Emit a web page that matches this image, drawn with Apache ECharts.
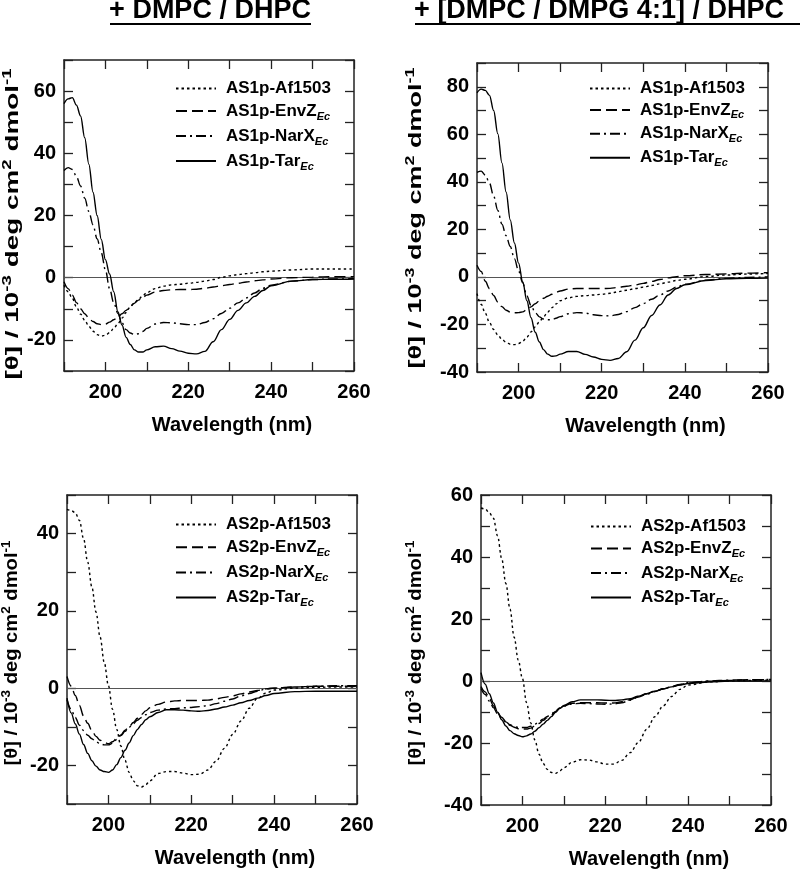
<!DOCTYPE html>
<html><head><meta charset="utf-8">
<script src="https://cdn.jsdelivr.net/npm/echarts@6/dist/echarts.min.js"></script>
<style>html,body{margin:0;padding:0;background:#fff}#c{width:800px;height:870px}</style>
</head><body><div id="c"></div>
<script>
// ---------- DATA ----------
const wavelengths = [190,191,192,193,194,195,196,197,198,199,200,201,202,203,204,205,206,207,208,209,210,212,214,216,218,220,222,224,226,228,230,232,234,236,238,240,245,250,255,260];

const panelTitles = ['+ DMPC / DHPC', '+ [DMPC / DMPG 4:1] / DHPC'];
const peptideKeys = ['Af1503', 'EnvZ', 'NarX', 'Tar'];
const peptideSubs = ['', 'Ec', 'Ec', 'Ec'];
const panelPrefix = ['AS1p', 'AS1p', 'AS2p', 'AS2p'];
const xTickLabels = [200, 220, 240, 260];
const yTickLabels = [[-20, 0, 20, 40, 60], [-40, -20, 0, 20, 40, 60, 80], [-20, 0, 20, 40], [-40, -20, 0, 20, 40, 60]];
const yRanges = [[-30, 70], [-40, 90], [-30, 50], [-40, 60]];
const xRange = [190, 260];
const xLabel = 'Wavelength (nm)';
const yLabelParts = [['[\u03b8] / 10', '-3'], [' deg cm', '2'], [' dmol', '-1']];

// Panel 1: AS1p in DMPC/DHPC
const p1_Af1503 = [-2.4,-4.5,-6.6,-9.4,-11.7,-13.7,-15.6,-17.2,-18.3,-18.8,-18.5,-17.7,-16.3,-14.8,-13,-11.2,-9.3,-8,-6.9,-5.8,-4.8,-3.5,-2.7,-2.3,-2.1,-1.8,-1.5,-1.1,-0.6,0.1,0.6,1.0,1.3,1.6,1.9,2.1,2.5,2.8,2.8,2.8];
const p1_EnvZ = [-1.3,-3.5,-5.6,-8,-10,-11.6,-13,-14.1,-14.8,-15.1,-14.9,-14.3,-13.5,-12.7,-11.6,-10.5,-9.2,-8.2,-7.2,-6.4,-5.6,-4.6,-4.1,-3.9,-3.8,-3.8,-3.7,-3.4,-3.0,-2.6,-2.2,-1.8,-1.4,-1.0,-0.7,-0.4,0,0.2,0.3,0.3];
const p1_NarX = [34.5,35.4,34.8,32.6,29.5,25.6,21.3,17,12.5,8,2.5,-3.5,-8,-11.5,-14.5,-16.7,-17.8,-18.3,-18,-17.3,-16.3,-14.9,-14.4,-14.5,-14.8,-15.1,-15.1,-14.4,-13.2,-11.5,-9.8,-8.1,-6.5,-4.9,-3.4,-2.4,-1.1,-0.6,-0.4,-0.3];
const p1_Tar = [56,57.5,57.9,55.5,52,45,36.5,27.5,20,12.3,5.8,1.2,-4.5,-10.9,-15.2,-19.2,-21.5,-23.2,-23.9,-23.9,-23.2,-22.2,-22,-22.8,-23.6,-24.3,-24.5,-23.7,-20.6,-16.7,-13.4,-10.5,-8.1,-6,-4.1,-2.6,-1.1,-0.6,-0.5,-0.4];

// Panel 2: AS1p in [DMPC/DMPG 4:1]/DHPC
const p2_Af1503 = [-7,-11.5,-15.3,-19.2,-22.1,-24.4,-26.3,-27.5,-28.3,-28.5,-28,-27.1,-25.3,-23.1,-21,-18.9,-16.8,-14.8,-13,-11.4,-10,-8.8,-8.2,-7.9,-7.6,-7.3,-6.9,-6.2,-5.6,-4.9,-4.3,-3.6,-2.9,-2.2,-1.5,-1,0.2,0.8,1.2,1.5];
const p2_EnvZ = [4.9,2.3,-1.8,-4.9,-7.8,-10.5,-12.5,-14,-14.8,-15.1,-15,-14.7,-13.7,-12.6,-11.3,-10.1,-9,-8.1,-7.3,-6.5,-5.9,-5.1,-4.9,-4.9,-4.9,-4.9,-4.8,-4.4,-3.9,-3.4,-2.7,-1.9,-1.1,-0.4,0.1,0.5,1,1.3,1.6,1.8];
const p2_NarX = [44,44.5,42.8,39.5,34,28,22.2,17.3,12.8,7.7,2.5,-2.5,-8,-12,-15,-16.8,-17.7,-18,-18,-17.4,-16.7,-15.5,-15,-15.2,-15.9,-16.3,-16.4,-15.8,-14.6,-12.9,-11.2,-9.4,-7.6,-5.9,-4.3,-3.1,-1.4,-0.6,-0.2,0];
const p2_Tar = [77.5,79,78.5,76.4,70,60.3,48,35.7,24,14.3,5.8,-2.1,-10,-17.2,-23.3,-27.4,-30.6,-32.5,-33.4,-33.2,-32.5,-31.4,-31.4,-32.6,-33.7,-34.7,-35.1,-34.3,-31.5,-26.6,-21.4,-16.2,-11.8,-7.6,-4.9,-3.3,-1.5,-0.8,-0.6,-0.5];

// Panel 3: AS2p in DMPC/DHPC
const p3_Af1503 = [46.3,46,45.4,43.4,38.7,32.6,26.2,19.7,13.2,6.6,0.6,-5.5,-10.7,-15,-18.7,-21.8,-24,-25.3,-25.6,-25,-24,-22.1,-21.6,-21.6,-22,-22.4,-22.3,-21.2,-18.9,-15.6,-12,-8.5,-5.2,-2.6,-1.3,-0.5,0,0.2,0.3,0.3];
const p3_EnvZ = [3,0.5,-1.9,-4.5,-7.2,-9.1,-11,-12.5,-13.5,-14.1,-14.4,-13.9,-13,-12.1,-10.9,-10,-8.9,-7.8,-6.8,-5.9,-5.1,-4.2,-3.6,-3.3,-3.2,-3.2,-3.2,-3.1,-2.8,-2.4,-2,-1.5,-1,-0.6,-0.2,0,0.3,0.5,0.5,0.5];
const p3_NarX = [-3,-5.5,-7.6,-9.6,-11,-12.2,-13.1,-13.9,-14.4,-14.7,-14.7,-14.3,-13.3,-12.3,-11.2,-10.1,-9.2,-8.3,-7.6,-6.9,-6.3,-5.7,-5.4,-5.3,-5.1,-5,-4.8,-4.5,-4,-3.4,-2.8,-2,-1.4,-0.8,-0.2,0,0.3,0.5,0.6,0.6];
const p3_Tar = [-2.6,-6.4,-9.3,-11.9,-14.6,-16.9,-18.8,-20.2,-21.2,-21.6,-21.8,-21.2,-19.8,-18,-16.1,-14.2,-12.3,-10.7,-9.4,-8.2,-7.4,-6.3,-5.6,-5.6,-5.7,-5.9,-6,-5.8,-5.4,-4.9,-4.4,-3.8,-3.2,-2.6,-1.9,-1.4,-0.9,-0.8,-0.8,-0.8];

// Panel 4: AS2p in [DMPC/DMPG 4:1]/DHPC
const p4_Af1503 = [55.8,55.5,54.3,52.5,46.8,39.5,31.5,23.2,14.1,6.7,0.8,-7,-13.5,-19,-23.6,-26.6,-28.5,-29.5,-29.8,-29,-28,-26.2,-25.4,-25.5,-26.1,-26.8,-26.8,-25.6,-23.1,-19.8,-15.6,-11.5,-8,-5,-2.7,-1.3,-0.3,0,0.2,0.3];
const p4_EnvZ = [-1.8,-3.5,-5.6,-8,-10.3,-11.7,-13.1,-14.3,-14.9,-15.4,-15.5,-15.5,-15.2,-14.5,-13.7,-12.7,-11.8,-11,-9.8,-8.8,-8,-7.2,-7,-7,-7,-7.1,-7.1,-6.7,-6,-5,-4.1,-3.3,-2.5,-1.9,-1.2,-0.6,-0.1,0.2,0.4,0.5];
const p4_NarX = [-2.4,-4.3,-6.5,-8.6,-10.6,-12,-13.2,-14.1,-14.6,-15,-15,-15,-14.6,-13.9,-13.1,-12.3,-11.4,-10.6,-9.6,-8.8,-8.1,-7.4,-7.2,-7.3,-7.4,-7.5,-7.4,-7,-6.2,-5.2,-4.3,-3.4,-2.5,-1.8,-1.1,-0.5,0,0.3,0.4,0.5];
const p4_Tar = [2.7,-1,-4.1,-7.1,-10.1,-12.5,-14.5,-16,-17,-17.6,-18,-17.7,-17.1,-16.2,-15.1,-13.9,-12.7,-11.5,-10.1,-8.8,-7.9,-6.7,-6.1,-6.1,-6.1,-6.2,-6.3,-6.1,-5.7,-4.9,-4.1,-3.3,-2.6,-1.9,-1.3,-0.8,-0.3,0,0,0];

const panelData = [
  [p1_Af1503, p1_EnvZ, p1_NarX, p1_Tar],
  [p2_Af1503, p2_EnvZ, p2_NarX, p2_Tar],
  [p3_Af1503, p3_EnvZ, p3_NarX, p3_Tar],
  [p4_Af1503, p4_EnvZ, p4_NarX, p4_Tar]
];

// ---------- LAYOUT / STYLE ----------
const FONT = '"Liberation Sans", Arial, Helvetica, sans-serif';
const INK = '#000';
const FRAME = '#222';
const grids = [
  {left: 64, top: 60, width: 290, height: 311},
  {left: 477, top: 63, width: 291, height: 309},
  {left: 67, top: 495, width: 290, height: 309},
  {left: 481, top: 495, width: 290, height: 310}
];
const legendPos = [
  {left: 175, top: 80, gap: 5.5},
  {left: 589, top: 80, gap: 4.4},
  {left: 175, top: 516, gap: 5.7},
  {left: 590, top: 518, gap: 5.0}
];
// y-title placement: centre x, centre y, stretch along reading direction
const yTitlePos = [
  {x: 13, y: 224, stretch: 1.55},
  {x: 416, y: 218, stretch: 1.5},
  {x: 12, y: 653, stretch: 1.12},
  {x: 416, y: 653, stretch: 1.12}
];
const dashes = [[2.5, 3], [11, 5], [10, 4, 2, 4], 'solid'];

const option = {
  animation: false,
  backgroundColor: '#fff',
  grid: grids.map(g => Object.assign({containLabel: false}, g)),
  xAxis: [], yAxis: [], series: [], legend: [],
  graphic: []
};

const frameLine = {show: true, onZero: false, lineStyle: {color: FRAME, width: 1.5}};
const tickStyle = {show: true, inside: true, length: 9, lineStyle: {color: FRAME, width: 1.3}};
const yTitleRich = '{a|' + yLabelParts[0][0] + '}{s|' + yLabelParts[0][1] + '}{a|' + yLabelParts[1][0] + '}{s|' + yLabelParts[1][1] + '}{a|' + yLabelParts[2][0] + '}{s|' + yLabelParts[2][1] + '}';

for (let p = 0; p < 4; p++) {
  option.xAxis.push({
    gridIndex: p, type: 'value', position: 'bottom', min: xRange[0], max: xRange[1], interval: 10,
    axisLine: frameLine, axisTick: tickStyle, splitLine: {show: false},
    axisLabel: {
      margin: 11, fontSize: 20, fontWeight: 'bold', fontFamily: FONT, color: INK,
      formatter: v => xTickLabels.indexOf(v) >= 0 ? String(v) : ''
    },
    name: xLabel, nameLocation: 'middle', nameGap: 44,
    nameTextStyle: {fontSize: 20, fontWeight: 'bold', fontFamily: FONT, color: INK, padding: [0, 0, 0, 46]}
  });
  option.xAxis.push({
    gridIndex: p, type: 'value', position: 'top', min: xRange[0], max: xRange[1], interval: 10,
    axisLine: frameLine, axisTick: tickStyle, axisLabel: {show: false}, splitLine: {show: false}
  });
  const yl = yTickLabels[p];
  option.yAxis.push({
    gridIndex: p, type: 'value', position: 'left', min: yRanges[p][0], max: yRanges[p][1], interval: 10,
    axisLine: frameLine, axisTick: tickStyle, splitLine: {show: false},
    axisLabel: {
      margin: 8, fontSize: 20, fontWeight: 'bold', fontFamily: FONT, color: INK,
      formatter: v => yl.indexOf(v) >= 0 ? String(v) : ''
    }
  });
  option.yAxis.push({
    gridIndex: p, type: 'value', position: 'right', min: yRanges[p][0], max: yRanges[p][1], interval: 10,
    axisLine: frameLine, axisTick: tickStyle, axisLabel: {show: false}, splitLine: {show: false}
  });

  const names = [];
  for (let k = 0; k < 4; k++) {
    const nm = panelPrefix[p] + '-' + peptideKeys[k];
    names.push(nm);
    const vals = panelData[p][k];
    const s = {
      type: 'line', name: nm, xAxisIndex: 2 * p, yAxisIndex: 2 * p,
      data: wavelengths.map((w, i) => [w, vals[i]]),
      smooth: 0.35, smoothMonotone: 'x', symbol: 'none', showSymbol: false,
      lineStyle: {color: INK, width: 1.4, type: dashes[k]},
      itemStyle: {color: INK},
      z: 3
    };
    if (k === 0) {
      s.markLine = {
        silent: true, symbol: ['none', 'none'], label: {show: false},
        lineStyle: {color: '#555', width: 1, type: 'solid'},
        data: [{yAxis: 0}], z: 1
      };
    }
    option.series.push(s);
  }

  option.legend.push({
    data: names, orient: 'vertical', left: legendPos[p].left, top: legendPos[p].top,
    itemWidth: 40, itemHeight: 14, itemGap: legendPos[p].gap, padding: 0,
    selectedMode: false,
    itemStyle: {opacity: 0, color: 'rgba(0,0,0,0)', borderWidth: 0},
    formatter: name => {
      const key = name.split('-')[1];
      const sub = peptideSubs[peptideKeys.indexOf(key)];
      return '{a|' + name + '}' + (sub ? '{s|' + sub + '}' : '');
    },
    textStyle: {
      rich: {
        a: {fontSize: 17, fontWeight: 'bold', fontFamily: FONT, color: INK, lineHeight: 22, padding: [0, 0, 0, 5]},
        s: {fontSize: 11, fontWeight: 'bold', fontStyle: 'italic', fontFamily: FONT, color: INK, lineHeight: 12, verticalAlign: 'bottom'}
      }
    }
  });

  // rotated y-axis title
  const yp = yTitlePos[p];
  option.graphic.push({
    type: 'text', x: yp.x, y: yp.y, rotation: Math.PI / 2, scaleX: yp.stretch, scaleY: 1,
    style: {
      text: yTitleRich, align: 'center', verticalAlign: 'middle',
      rich: {
        a: {fontSize: 18, fontWeight: 'bold', fontFamily: FONT, fill: INK, lineHeight: 22},
        s: {fontSize: 12, fontWeight: 'bold', fontFamily: FONT, fill: INK, lineHeight: 12, verticalAlign: 'top'}
      }
    }
  });
}

option.graphic.push(
  {type: 'text', style: {text: panelTitles[0], x: 210, y: 11, textAlign: 'center', textVerticalAlign: 'middle', font: 'bold 27px ' + FONT, fill: INK}},
  {type: 'line', shape: {x1: 110, y1: 24, x2: 311, y2: 24}, style: {stroke: INK, lineWidth: 2}},
  {type: 'text', style: {text: panelTitles[1], x: 599, y: 11, textAlign: 'center', textVerticalAlign: 'middle', font: 'bold 27px ' + FONT, fill: INK}},
  {type: 'line', shape: {x1: 415, y1: 24, x2: 800, y2: 24}, style: {stroke: INK, lineWidth: 2}}
);

const chart = echarts.init(document.getElementById('c'), null, {renderer: 'canvas'});
chart.setOption(option);
</script>
</body></html>
